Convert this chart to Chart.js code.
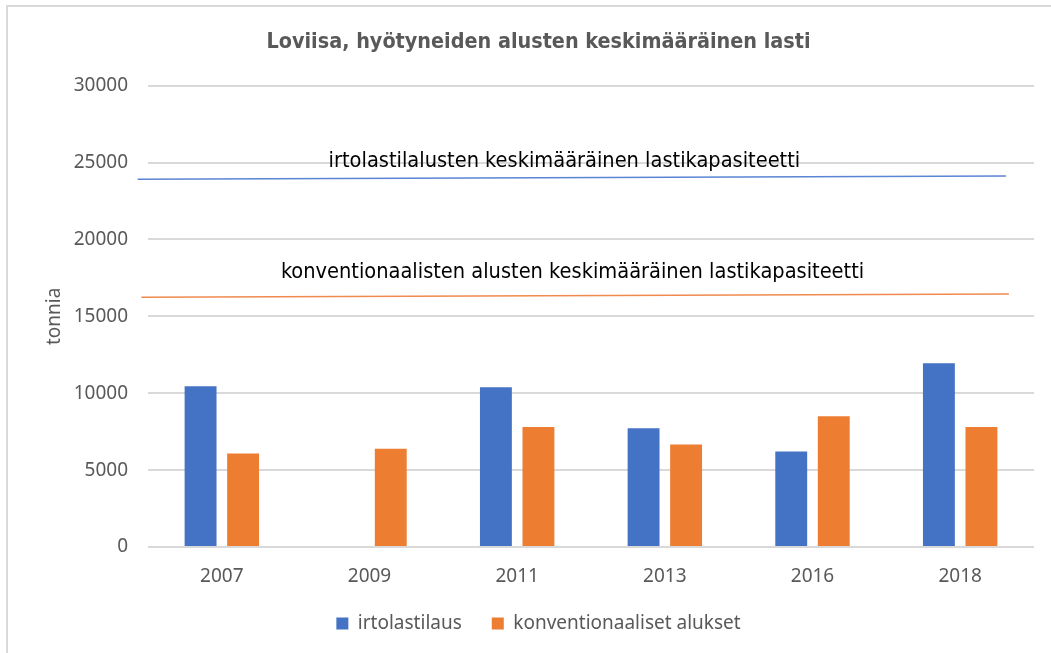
<!DOCTYPE html>
<html>
<head>
<meta charset="utf-8">
<script src="https://cdn.jsdelivr.net/npm/chart.js@4.4.1/dist/chart.umd.min.js"></script>
<style>
  html, body { margin: 0; padding: 0; background: #fff; }
</style>
</head>
<body>
<canvas id="chart" width="1051" height="653"></canvas>
<script>
const years = ['2007', '2009', '2011', '2013', '2016', '2018'];
const bulkCargo = [10450, null, 10390, 7730, 6210, 11950];
const conventionalCargo = [6080, 6390, 7800, 6670, 8500, 7800];

// capacity lines, x in category index units (0 = 2007)
const bulkCapX = [-0.57, 5.31];
const bulkCap = [23910, 24130];
const convCapX = [-0.545, 5.33];
const convCap = [16240, 16450];

const capLabels = ['irtolastilalusten keskimääräinen lastikapasiteetti',
                   'konventionaalisten alusten keskimääräinen lastikapasiteetti'];
const capLabelX = [2.32, 2.375];
const capLabelY = [25050, 17850];

const yMax = 30000;
const yStep = 5000;

const BLUE = '#4472C4';
const ORANGE = '#ED7D31';
const GREY = '#595959';
const tickFont = "'Noto Sans', 'Open Sans', sans-serif";
const narrowFont = "'DejaVu Sans Condensed', sans-serif";

const frame = {
    id: 'frame',
    beforeDraw(chart) {
        const ctx = chart.ctx;
        ctx.save();
        ctx.fillStyle = '#fff';
        ctx.fillRect(0, 0, chart.width, chart.height);
        ctx.strokeStyle = '#d9d9d9';
        ctx.lineWidth = 2;
        ctx.beginPath();
        ctx.moveTo(7, chart.height);
        ctx.lineTo(7, 6);
        ctx.lineTo(chart.width, 6);
        ctx.stroke();
        ctx.restore();
    }
};

// capacity lines + their captions, placed through the chart's scales
const capacity = {
    id: 'capacity',
    afterDatasetsDraw(chart) {
        const ctx = chart.ctx;
        const xs = chart.scales.x, ys = chart.scales.y;
        const lines = [[bulkCapX, bulkCap, '#5a84d4'], [convCapX, convCap, '#f08a4e']];
        ctx.save();
        ctx.lineWidth = 1.5;
        lines.forEach(([lx, ly, col]) => {
            ctx.strokeStyle = col;
            ctx.beginPath();
            lx.forEach((x, i) => {
                const px = xs.getPixelForValue(x), py = ys.getPixelForValue(ly[i]);
                if (i === 0) ctx.moveTo(px, py); else ctx.lineTo(px, py);
            });
            ctx.stroke();
        });
        ctx.fillStyle = '#000';
        ctx.font = '21.6px ' + narrowFont;
        ctx.textAlign = 'center';
        ctx.textBaseline = 'middle';
        capLabels.forEach((t, i) => {
            ctx.fillText(t, xs.getPixelForValue(capLabelX[i]), ys.getPixelForValue(capLabelY[i]));
        });
        ctx.restore();
    }
};

new Chart(document.getElementById('chart'), {
    type: 'bar',
    data: {
        labels: years,
        datasets: [
            { label: 'irtolastilaus', data: bulkCargo, backgroundColor: BLUE },
            { label: 'konventionaaliset alukset', data: conventionalCargo, backgroundColor: ORANGE }
        ]
    },
    options: {
        responsive: false,
        animation: false,
        devicePixelRatio: 1,
        datasets: { bar: { categoryPercentage: 0.576, barPercentage: 0.75 } },
        layout: { padding: { left: 43, right: 17, top: 0, bottom: 10 } },
        scales: {
            x: {
                grid: { display: false, drawTicks: false },
                border: { display: false },
                ticks: { color: GREY, font: { family: tickFont, size: 19 }, padding: 18 },
                afterFit: s => { s.height = 37; }
            },
            y: {
                min: 0, max: yMax,
                grid: { color: '#d9d9d9', lineWidth: 2, drawTicks: false },
                border: { display: false },
                ticks: {
                    stepSize: yStep, color: GREY, padding: 20,
                    font: { family: tickFont, size: 19 },
                    callback: v => String(v)
                },
                title: { display: true, text: 'tonnia', color: GREY, font: { family: tickFont, size: 19 }, padding: 0 },
                afterFit: s => { s.width = 105; }
            }
        },
        plugins: {
            title: {
                display: true,
                text: 'Loviisa, hyötyneiden alusten keskimääräinen lasti',
                color: GREY,
                font: { family: narrowFont, size: 21.4, weight: 'bold', lineHeight: 1.2 },
                padding: { top: 30, bottom: 30 }
            },
            legend: {
                position: 'bottom',
                labels: {
                    color: GREY,
                    font: { family: tickFont, size: 19 },
                    boxWidth: 12, boxHeight: 12,
                    padding: 30
                }
            },
            tooltip: { enabled: false }
        }
    },
    plugins: [frame, capacity]
});
</script>
</body>
</html>
